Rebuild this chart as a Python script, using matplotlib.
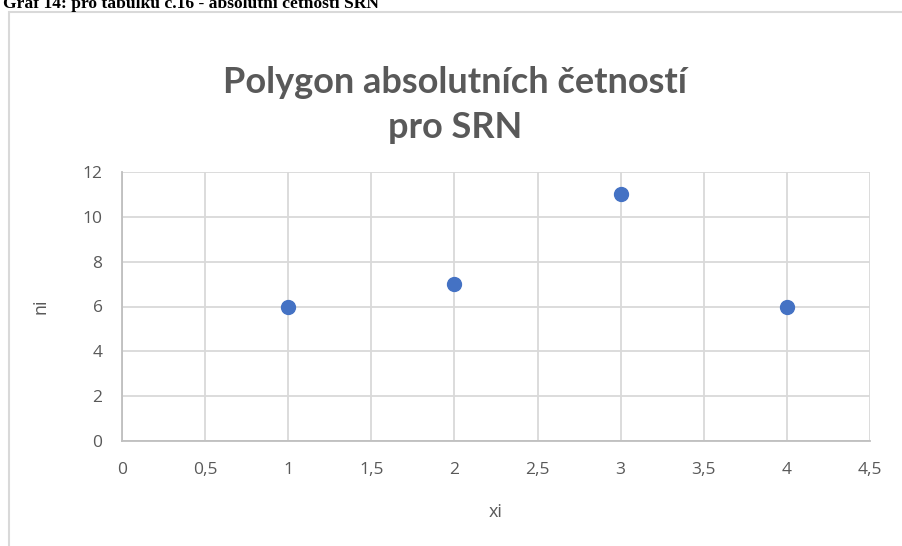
import matplotlib
matplotlib.use("Agg")
import matplotlib.pyplot as plt
from matplotlib.patches import Rectangle

xi = [1, 2, 3, 4]
ni = [6, 7, 11, 6]
xticks = [0, 0.5, 1, 1.5, 2, 2.5, 3, 3.5, 4, 4.5]
xticklabels = ["0", "0,5", "1", "1,5", "2", "2,5", "3", "3,5", "4", "4,5"]
yticks = [0, 2, 4, 6, 8, 10, 12]
title = "Polygon absolutních četností\npro SRN"
caption = "Graf 14: pro tabulku č.16 - absolutní četnosti SRN"

W, H = 902, 546
fig = plt.figure(figsize=(W / 100, H / 100), dpi=100)
plt.rcParams['font.family'] = ['Open Sans', 'DejaVu Sans']

# outer chart frame
fig.patches.append(Rectangle((9 / W, -0.05), 1.1, 1 - 12 / H + 0.05,
                             transform=fig.transFigure, fill=False,
                             edgecolor="#d9d9d9", linewidth=1.5))

# caption (cut off at top)
fig.text(3 / W, 1 - 8 / H, caption, family="Liberation Serif", weight="bold",
         fontsize=12.6, va="baseline", ha="left", color="black")

left, right = 122 / W, 870 / W
bottom, top = 1 - 441 / H, 1 - 172 / H
ax = fig.add_axes([left, bottom, right - left, top - bottom])
ax.set_xlim(0, 4.5)
ax.set_ylim(0, 12)
ax.set_xticks(xticks)
ax.set_xticklabels(xticklabels)
ax.set_yticks(yticks)
ax.grid(True, color="#d9d9d9", linewidth=1.3)
ax.set_axisbelow(True)
for s in ["top", "right"]:
    ax.spines[s].set_visible(False)
for s in ["left", "bottom"]:
    ax.spines[s].set_color("#bfbfbf")
    ax.spines[s].set_linewidth(1.3)
ax.tick_params(length=0, colors="#595959", labelsize=12.5)
ax.tick_params(axis="x", pad=15)
ax.tick_params(axis="y", pad=14)

ax.scatter(xi, ni, s=100, color="#4472C4", zorder=3, clip_on=False)

ax.set_xlabel("xi", fontsize=13, color="#595959", labelpad=18)
ax.set_ylabel("ni", fontsize=13, color="#595959", labelpad=24)

fig.text(455 / W, 1 - 105 / H, title, ha="center", va="center",
         family=["Lato", "DejaVu Sans"], weight="bold",
         fontsize=26, color="#595959", linespacing=1.45)

fig.savefig("out.png", dpi=100)
